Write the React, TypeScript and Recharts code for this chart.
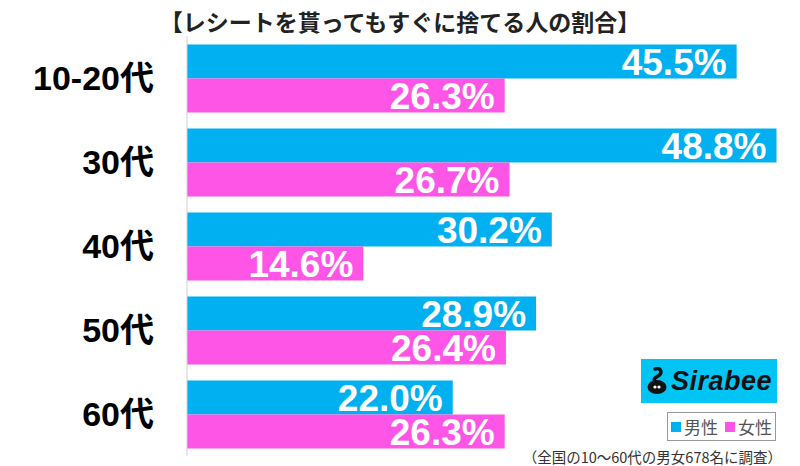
import React from 'react';
import { BarChart, Bar, XAxis, YAxis, LabelList } from 'recharts';

const categories = ['10-20代', '30代', '40代', '50代', '60代'];
const maleValues = [45.5, 48.8, 30.2, 28.9, 22.0];
const femaleValues = [26.3, 26.7, 14.6, 26.4, 26.3];
const seriesNames = ['男性', '女性'];

const BLUE = '#00b0f0';
const PINK = '#ff55e6';
const JP = "'Noto Sans CJK JP', sans-serif";
const NUM = "'Liberation Sans', Arial, 'Noto Sans CJK JP', sans-serif";

const data = categories.map((name, i) => ({
  name,
  male: maleValues[i],
  female: femaleValues[i],
}));

const CategoryTick = (props: any) => {
  const { y, payload } = props;
  return (
    <text
      x={154}
      y={y}
      dy={12}
      textAnchor="end"
      fontSize={34}
      fontWeight="bold"
      fontFamily={NUM}
      fill="#000"
    >
      {payload.value}
    </text>
  );
};

const fmt = (v: number) => `${v.toFixed(1)}%`;

const App: React.FC = () => {
  return (
    <div
      style={{
        position: 'absolute',
        left: 0,
        top: 0,
        width: 800,
        height: 466,
        background: '#fff',
        overflow: 'hidden',
      }}
    >
      <div
        style={{
          position: 'absolute',
          top: 4,
          left: 0,
          width: 800,
          textAlign: 'center',
          fontFamily: JP,
          fontWeight: 'bold',
          fontSize: 23,
          color: '#222',
        }}
      >
        【レシートを貰ってもすぐに捨てる人の割合】
      </div>

      <BarChart
        width={800}
        height={466}
        data={data}
        layout="vertical"
        margin={{ top: 36, right: 9, bottom: 10, left: 0 }}
        barCategoryGap="10%"
        barGap={0}
      >
        <XAxis type="number" domain={[0, 50]} hide />
        <YAxis
          type="category"
          dataKey="name"
          width={187}
          axisLine={{ stroke: '#d0d0d0' }}
          tickLine={false}
          tick={<CategoryTick />}
        />
        <Bar dataKey="male" name={seriesNames[0]} fill={BLUE} isAnimationActive={false}>
          <LabelList
            dataKey="male"
            position="insideRight"
            offset={10}
            formatter={fmt}
            fill="#fff"
            fontSize={37}
            fontWeight="bold"
            fontFamily={NUM}
          />
        </Bar>
        <Bar dataKey="female" name={seriesNames[1]} fill={PINK} isAnimationActive={false}>
          <LabelList
            dataKey="female"
            position="insideRight"
            offset={10}
            formatter={fmt}
            fill="#fff"
            fontSize={37}
            fontWeight="bold"
            fontFamily={NUM}
          />
        </Bar>
      </BarChart>

      {/* Sirabee logo */}
      <div
        style={{
          position: 'absolute',
          left: 641,
          top: 359,
          width: 136,
          height: 44,
          background: '#00c4f4',
          display: 'flex',
          alignItems: 'center',
          justifyContent: 'center',
          gap: 3,
        }}
      >
        <svg width={22} height={28} viewBox="0 0 22 28">
          <path
            d="M9 2 C15 0 17 6 12 9 C9 11 7 12 9 14"
            stroke="#111"
            strokeWidth={3.5}
            fill="none"
            strokeLinecap="round"
          />
          <ellipse cx={11} cy={20} rx={9.5} ry={7} fill="#111" />
          <circle cx={9} cy={20} r={1.6} fill="#fff" />
          <circle cx={13} cy={20} r={1.6} fill="#fff" />
        </svg>
        <span
          style={{
            fontFamily: NUM,
            fontWeight: 'bold',
            fontStyle: 'italic',
            fontSize: 27,
            color: '#111',
            letterSpacing: 0.5,
          }}
        >
          Sirabee
        </span>
      </div>

      {/* legend */}
      <div
        style={{
          position: 'absolute',
          left: 667,
          top: 412,
          width: 107,
          height: 27,
          border: '1px solid #999',
          display: 'flex',
          alignItems: 'center',
          justifyContent: 'center',
          fontFamily: JP,
          fontSize: 17,
          color: '#555',
          gap: 3,
        }}
      >
        <span style={{ width: 10, height: 10, background: BLUE, display: 'inline-block' }} />
        <span>{seriesNames[0]}</span>
        <span
          style={{ width: 10, height: 10, background: PINK, display: 'inline-block', marginLeft: 4 }}
        />
        <span>{seriesNames[1]}</span>
      </div>

      <div
        style={{
          position: 'absolute',
          right: 18,
          top: 446,
          fontFamily: JP,
          fontSize: 14.5,
          color: '#333',
          whiteSpace: 'nowrap',
        }}
      >
        （全国の10～60代の男女678名に調査）
      </div>
    </div>
  );
};

export default App;
